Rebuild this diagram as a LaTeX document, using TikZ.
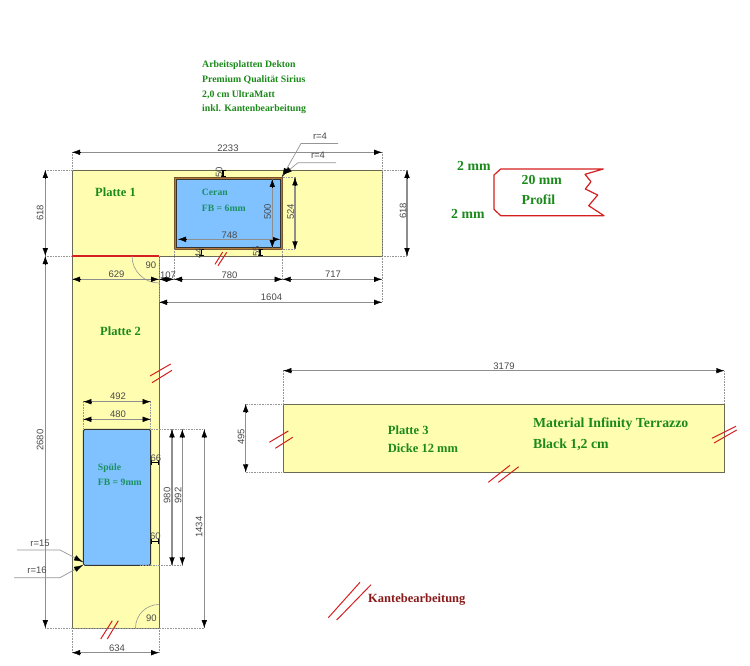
\documentclass[tikz,border=0pt]{standalone}
\usepackage{fontspec}
\setmainfont{Liberation Serif}
\newfontfamily\dimfont{Liberation Sans}
\usetikzlibrary{arrows.meta,calc}
\definecolor{plate}{HTML}{FFFDB0}
\definecolor{sinkblue}{HTML}{80C2FF}
\definecolor{lbl}{HTML}{1B8A1B}
\definecolor{lblb}{HTML}{1A9060}
\definecolor{edge}{HTML}{6A6A54}
\definecolor{dimc}{HTML}{969696}
\definecolor{dimd}{HTML}{8E8E8E}
\definecolor{txtc}{HTML}{4A4A4A}
\definecolor{slash}{HTML}{D42020}
\definecolor{wine}{HTML}{8A1A1A}
\definecolor{frame}{HTML}{B07A3C}
\tikzset{
 x=1pt,y=-1pt,
 platebox/.style={fill=plate,draw=edge,line width=0.9pt},
 cutout/.style={fill=sinkblue,draw=black!80,line width=1pt},
 dimtip/.style={draw=black,fill=black,line width=0.4pt,-{Latex[length=8pt,width=5.5pt]}},
 dimline/.style={draw=dimd,line width=1.3pt},
 ext/.style={draw=dimc,line width=0.6pt,densely dotted},
 dimtext/.style={font=\dimfont\fontsize{9.5}{10}\selectfont,text=txtc,inner sep=0pt},
 tag/.style={font=\bfseries\fontsize{12.5}{14}\selectfont,text=lbl,inner sep=0pt,anchor=west},
 tagbig/.style={tag,font=\bfseries\fontsize{13.8}{16}\selectfont},
 tagb/.style={font=\bfseries\fontsize{9.7}{11}\selectfont,text=lblb,inner sep=0pt,anchor=west},
 head/.style={font=\bfseries\fontsize{9.8}{11}\selectfont,text=lbl,inner sep=0pt,anchor=west},
 kerf/.style={draw=slash,line width=1pt},
 leader/.style={draw=dimc,line width=0.7pt},
 leadtip/.style={draw=black,fill=black,line width=0.4pt,-{Latex[length=9pt,width=5.5pt]}},
 tiny/.style={draw=black,line width=1.1pt,{Bar[width=5pt]}-{Bar[width=5pt]}},
}
\newcommand{\dimTips}[1]{\draw[dimline] (#1a)--(#1b);\draw[dimtip] ($(#1a)!8pt!(#1b)$)--(#1a);\draw[dimtip] ($(#1b)!8pt!(#1a)$)--(#1b);}
% name, x1, x2, y, text, tx, ty
\newcommand{\dimH}[7]{\coordinate (#1a) at (#2,#4);\coordinate (#1b) at (#3,#4);\dimTips{#1}\node[dimtext] (#1t) at (#6,#7) {#5};}
\newcommand{\dimV}[7]{\coordinate (#1a) at (#4,#2);\coordinate (#1b) at (#4,#3);\dimTips{#1}\node[dimtext,rotate=90] (#1t) at (#6,#7) {#5};}
\newcommand{\leadr}[6]{\coordinate (#1a) at #2;\coordinate (#1b) at #3;\coordinate (#1c) at #4;\draw[leader] (#1a)--(#1b)--(#1c);\draw[leadtip] ($(#1c)!9pt!(#1b)$)--(#1c);\node[dimtext] (#1t) at #6 {#5};}
\begin{document}
\begin{tikzpicture}
\useasboundingbox (0,0) rectangle (750,666);
\fill[white] (0,0) rectangle (750,666);
% plates
\draw[platebox] (72,170) -- (382,170) -- (382,256) -- (159,256) -- (159,628) -- (72,628) -- cycle;
\draw[platebox] (283.3,404) rectangle (724.3,472.3);
\draw[draw=slash,line width=1.3pt] (72,256) -- (159,256);
% cut-outs
\draw[fill=frame,draw=frame!70!black,line width=0.6pt] (174,177.3) rectangle (282.7,249.3);
\draw[cutout] (176.6,179.4) rectangle (280.6,247.6);
\draw[cutout,rounded corners=1.5pt] (83.3,429.3) rectangle (150.7,565.3);
% extension lines
\draw[ext] (72,152) -- (72,170) (382,152) -- (382,302) (45,170) -- (72,170) (45,256) -- (72,256)
 (382,170) -- (407,170) (382,256) -- (407,256) (174,249) -- (174,279) (282.7,249) -- (282.7,279) (159,256) -- (159,302)
 (282.7,177.3) -- (295,177.3) (282.7,249.3) -- (295,249.3)
 (83.3,402) -- (83.3,429) (150.7,402) -- (150.7,429) (150.7,429.3) -- (204.3,429.3) (140,565.3) -- (182.3,565.3)
 (45,628) -- (204.3,628) (72,628) -- (72,653) (159,628) -- (159,653)
 (283.3,371) -- (283.3,404) (724.3,371) -- (724.3,404) (245.7,404) -- (283.3,404) (245.7,472.3) -- (283.3,472.3);
% angle arcs
\draw[draw=dimc,line width=0.6pt] (132,256) arc[start angle=180,end angle=270,x radius=27,y radius=-27];
\node[dimtext] (a90t) at (151,265) {90};
\draw[draw=dimc,line width=0.6pt] (135.5,628) arc[start angle=180,end angle=90,x radius=23.5,y radius=-23.5];
\node[dimtext] (a90b) at (151.5,618.5) {90};
% dimensions
\dimH{w}{72}{382}{152.3}{2233}{228}{148}
\dimV{l}{170}{256}{45.3}{618}{40}{213}
\dimV{r}{170}{256}{407}{618}{403}{211}
\dimV{t}{256}{628}{45.3}{2680}{40}{440}
\dimH{a}{72}{159}{279.3}{629}{116.5}{274}
\dimH{b}{159}{174}{279.3}{107}{168}{275.5}
\dimH{c}{174}{282.7}{279.3}{780}{229.5}{275}
\dimH{d}{282.7}{382}{279.3}{717}{333}{274.5}
\dimH{e}{159}{382}{302.3}{1604}{271.5}{297.5}
\dimH{f}{178}{280}{239.3}{748}{229.5}{235}
\dimV{g}{179}{248}{272.3}{500}{267.5}{212}
\dimV{h}{177.3}{249.3}{295}{524}{290.5}{212}
\dimH{i}{83.3}{150.7}{401.7}{492}{118}{396.5}
\dimH{j}{83.3}{150.7}{419.3}{480}{118}{414.5}
\dimV{k}{429.3}{565.3}{172}{980}{167}{495.5}
\dimV{m}{429.3}{565.3}{182.3}{992}{178}{495.5}
\dimV{n}{429.3}{628}{204.3}{1434}{199}{527}
\dimH{o}{72}{159}{652.7}{634}{117}{648}
\dimV{p}{404}{472.3}{245.7}{495}{241}{437}
\dimH{q}{283.3}{724.3}{370.7}{3179}{504}{366}
% small dimensions
\coordinate (s1a) at (223,170);\coordinate (s1b) at (223,177);\draw[tiny] (s1a)--(s1b);\node[dimtext,rotate=90] (s1t) at (219,172.5) {50};
\coordinate (s2a) at (201.7,249);\coordinate (s2b) at (201.7,256);\draw[tiny] (s2a)--(s2b);\node[dimtext,rotate=90] (s2t) at (198.5,253) {44};
\coordinate (s3a) at (260,249);\coordinate (s3b) at (260,256);\draw[tiny] (s3a)--(s3b);\node[dimtext,rotate=90] (s3t) at (256.5,251.5) {55};
\coordinate (s4a) at (151,462.7);\coordinate (s4b) at (159,462.7);\draw[tiny] (s4a)--(s4b);\node[dimtext] (s4t) at (156,458) {66};
\coordinate (s5a) at (151,541.7);\coordinate (s5b) at (159,541.7);\draw[tiny] (s5a)--(s5b);\node[dimtext] (s5t) at (155.5,536.5) {60};
% radius leaders
\leadr{r1}{(338,143.5)}{(301,143.5)}{(282,177)}{r=4}{(320,136)}
\leadr{r2}{(336,162.7)}{(298,162.7)}{(283,175)}{r=4}{(318,155)}
\leadr{r3}{(17,550)}{(60,550)}{(83,562)}{r=15}{(40,543)}
\leadr{r4}{(14,577.7)}{(60,577.7)}{(83,565)}{r=16}{(37,570)}
% edge marks
\draw[kerf] (215,264.3)--(222.7,252) (218,265.7)--(226.7,252.3);
\draw[kerf] (150,376)--(170.7,364) (152,382.7)--(172,370.3);
\draw[kerf] (100.7,639)--(112.3,620.7) (107.3,639)--(118.3,620.7);
\draw[kerf] (269.3,442.3)--(288.3,431) (275.3,448.3)--(292.7,437.3);
\draw[kerf] (488.3,482.3)--(510,465.3) (498.3,482.3)--(518.7,466.7);
\draw[kerf] (712,438.3)--(736,426.3) (714,443)--(736.7,430);
\draw[kerf] (328.3,617.7)--(360,582.3) (336.7,620)--(371,584.7);
% profile
\draw[draw=slash,line width=1.2pt,line join=round] (603.3,169)--(500.7,169)--(494,175)--(494,209.3)--(500.7,215.7)--(604,215.7)--(588.7,205.7)--(597.7,195)--(585.3,189)--(591,181.7)--(585,174.3)--cycle;
% labels
\node[head] (h1) at (202,65) {Arbeitsplatten Dekton};
\node[head] (h2) at (202,80) {Premium Qualität Sirius};
\node[head] (h3) at (202,94.5) {2,0 cm UltraMatt};
\node[head] (h4) at (202,109) {inkl. Kantenbearbeitung};
\node[tag] (p1) at (95,192.7) {Platte 1};
\node[tag] (p2) at (100,331) {Platte 2};
\node[tagb] (c1) at (201.7,192.7) {Ceran};
\node[tagb] (c2) at (201.7,208) {FB = 6mm};
\node[tagb] (s1) at (97.7,467.7) {Spüle};
\node[tagb] (s2) at (97.7,482) {FB = 9mm};
\node[tag] (p3) at (387.7,430) {Platte 3};
\node[tag] (p4) at (387.7,448.5) {Dicke 12 mm};
\node[tagbig] (m1) at (533,423.7) {Material Infinity Terrazzo};
\node[tagbig] (m2) at (533,444.7) {Black 1,2 cm};
\node[tagbig] (q1) at (457,165.5) {2 mm};
\node[tagbig] (q2) at (451,213.5) {2 mm};
\node[tagbig] (q3) at (521.5,180) {20 mm};
\node[tagbig] (q4) at (521.5,200) {Profil};
\node[tag,text=wine] (kb) at (368,600) {Kantebearbeitung};
\end{tikzpicture}
\end{document}
